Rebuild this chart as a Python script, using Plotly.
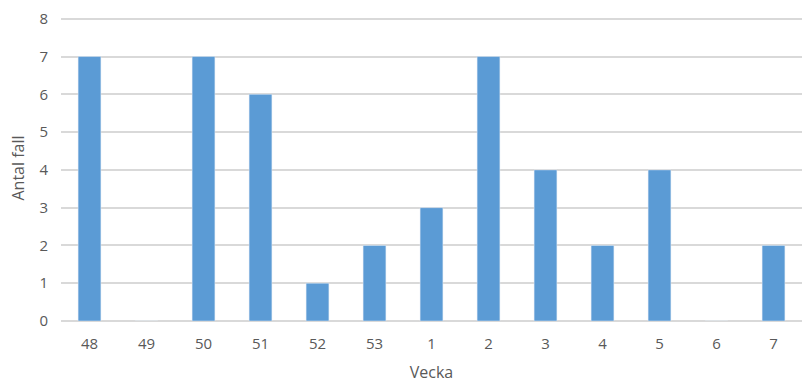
import plotly.graph_objects as go

weeks = ["48", "49", "50", "51", "52", "53", "1", "2", "3", "4", "5", "6", "7"]
cases = [7, 0, 7, 6, 1, 2, 3, 7, 4, 2, 4, 0, 2]

fig = go.Figure(go.Bar(x=weeks, y=cases, marker_color="#5B9BD5", width=0.4))
font_color = "#595959"
fig.update_layout(
    width=810, height=390,
    margin=dict(l=61, r=8, t=10, b=69),
    plot_bgcolor="white", paper_bgcolor="white",
    font=dict(family="Open Sans, Liberation Sans, sans-serif", size=15, color=font_color),
    showlegend=False, bargap=0.6,
)
fig.update_xaxes(type="category", title=dict(text="Vecka", font=dict(size=16), standoff=14),
                 showgrid=False, showline=False, ticks="", tickfont=dict(size=15),
                 ticklabelstandoff=12)
fig.update_yaxes(range=[0, 8.1], tickvals=[0, 1, 2, 3, 4, 5, 6, 7, 8],
                 showgrid=True, gridcolor="#D9D9D9", gridwidth=1.5,
                 zeroline=True, zerolinecolor="#D9D9D9", zerolinewidth=1.5,
                 title=dict(text="Antal fall", font=dict(size=16), standoff=10),
                 ticks="", tickfont=dict(size=15), showline=False, ticklabelstandoff=12)
fig.write_html("out.html")
